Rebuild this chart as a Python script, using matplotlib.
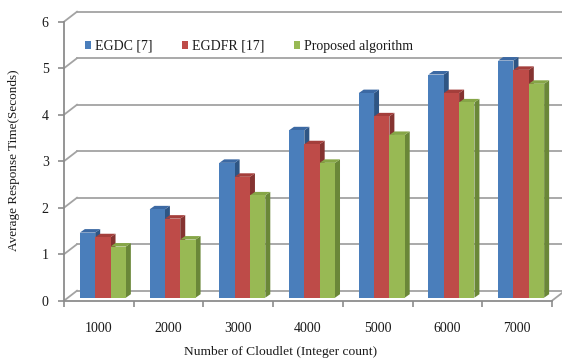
import matplotlib
matplotlib.use("Agg")
import matplotlib.pyplot as plt
from matplotlib.patches import Polygon, Patch

# ---- data ----
categories = ["1000", "2000", "3000", "4000", "5000", "6000", "7000"]
series_names = ["EGDC [7]", "EGDFR [17]", "Proposed algorithm"]
egdc = [1.4, 1.9, 2.9, 3.6, 4.4, 4.8, 5.1]
egdfr = [1.3, 1.7, 2.6, 3.3, 3.9, 4.4, 4.9]
proposed = [1.1, 1.25, 2.2, 2.9, 3.5, 4.2, 4.6]
y_ticks = [0, 1, 2, 3, 4, 5, 6]

front_cols = ["#4A7EBB", "#BE4B48", "#98B954"]
top_cols = ["#3C69A3", "#A43E3B", "#86A647"]
side_cols = ["#2E5584", "#853331", "#6A8738"]

W, H, DPI = 562, 361, 100
fig = plt.figure(figsize=(W / DPI, H / DPI), dpi=DPI)
fig.patch.set_facecolor("white")

# front frame in pixels
L, R = 64, 552
Y0, Y6 = 300.7, 21.7
ax = fig.add_axes([L / W, (H - Y0) / H, (R - L) / W, (Y0 - Y6) / H])
n = len(categories)
ax.set_xlim(0.5, n + 0.5)
ax.set_ylim(0, 6)
sx = (R - L) / n          # px per x unit
sy = (Y0 - Y6) / 6        # px per y unit

def dx(p):
    return p / sx

def dy(p):
    return p / sy

grid_c = "#A3A3A3"
axis_c = "#8C8C8C"
wall = (13, 10)

# walls / gridlines
for v in y_ticks:
    ax.plot([0.5 + dx(wall[0]), n + 0.5 + dx(wall[0]) + 1], [v + dy(wall[1])] * 2,
            color=grid_c, lw=1.3, clip_on=False, zorder=1)
    ax.plot([0.5, 0.5 + dx(wall[0])], [v, v + dy(wall[1])],
            color=grid_c, lw=1.3, clip_on=False, zorder=1)
# floor right edge
ax.plot([n + 0.5, n + 0.5 + dx(wall[0])], [0, dy(wall[1])], color=grid_c, lw=1.3,
        clip_on=False, zorder=1)

# bars
series = [egdc, egdfr, proposed]
bw = 0.22
fo = (dx(4), dy(3))
bd = (dx(5), dy(3.5))
xs = list(range(1, n + 1))
for i in range(n):
    for j, vals in enumerate(series):
        v = vals[i]
        x0 = xs[i] - 1.5 * bw + j * bw + fo[0]
        x1 = x0 + bw
        b = fo[1]
        t = v + fo[1]
        z = 3 + i * 3 + j
        ax.add_patch(Polygon([(x1, b), (x1 + bd[0], b + bd[1]), (x1 + bd[0], t + bd[1]), (x1, t)],
                             closed=True, fc=side_cols[j], ec="none", zorder=z))
        ax.add_patch(Polygon([(x0, t), (x1, t), (x1 + bd[0], t + bd[1]), (x0 + bd[0], t + bd[1])],
                             closed=True, fc=top_cols[j], ec="none", zorder=z))
        ax.bar(x0, v, width=bw, bottom=b, align="edge", color=front_cols[j],
               edgecolor="none", zorder=z + 0.5)

# axes styling
for s in ["top", "right"]:
    ax.spines[s].set_visible(False)
for s in ["left", "bottom"]:
    ax.spines[s].set_color(axis_c)
    ax.spines[s].set_linewidth(1.3)
    ax.spines[s].set_zorder(2)

font = "Liberation Serif"
tc = "#1a1a1a"
ax.set_yticks(y_ticks)
ax.set_yticklabels([str(v) for v in y_ticks], fontfamily=font, fontsize=10, color=tc)
ax.tick_params(axis="y", direction="out", length=4, color=axis_c, width=1.2, pad=7)
ax.set_xticks(xs)
ax.set_xticklabels(categories, fontfamily=font, fontsize=10, color=tc)
ax.set_xticks([k + 0.5 for k in range(n + 1)], minor=True)
ax.tick_params(axis="x", which="major", length=0, pad=15)
ax.tick_params(axis="x", which="minor", direction="out", length=4, color=axis_c, width=1.2)

fig.text(281 / W, 1 - 352 / H, "Number of Cloudlet (Integer count)", ha="center", va="center",
         fontfamily=font, fontsize=9.7, color=tc)
fig.text(14 / W, 1 - 160 / H, "Average Response Time(Seconds)", ha="center", va="center",
         rotation=90, fontfamily=font, fontsize=9.5, color=tc)

handles = [Patch(facecolor=c, edgecolor="none") for c in front_cols]
leg = fig.legend(handles, series_names, loc="center left", bbox_to_anchor=(85 / W, 1 - 46.5 / H),
                 ncol=3, frameon=False, prop={"family": font, "size": 10},
                 handlelength=0.45, handleheight=0.45, handletextpad=0.25, columnspacing=2.15,
                 borderpad=0, borderaxespad=0)
for t in leg.get_texts():
    t.set_color(tc)

fig.savefig("out.png", dpi=DPI, facecolor="white")
